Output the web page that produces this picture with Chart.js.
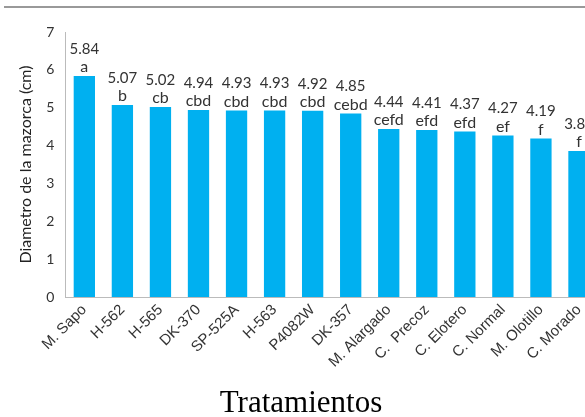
<!DOCTYPE html>
<html>
<head>
<meta charset="utf-8">
<script src="https://cdn.jsdelivr.net/npm/chart.js@4/dist/chart.umd.min.js"></script>
<style>
  html, body { margin: 0; padding: 0; background: #fff; overflow: hidden; }
  #wrap { position: relative; width: 585px; height: 417px; overflow: hidden; }
  #topline { position: absolute; left: 4px; right: 0; top: 6px; height: 2px; background: #999; }
  #grafica { position: absolute; left: 0; top: 0; }
  #titulo-x { position: absolute; left: 201px; width: 200px; top: 384px; text-align: center;
    font-family: 'Liberation Serif', serif; font-size: 31px; line-height: 36px; color: #000; }
</style>
</head>
<body>
<div id="wrap">
  <div id="topline"></div>
  <canvas id="grafica" width="598" height="417"></canvas>
  <div id="titulo-x">Tratamientos</div>
</div>
<script>
var tratamientos = ["M. Sapo", "H-562", "H-565", "DK-370", "SP-525A", "H-563", "P4082W",
  "DK-357", "M. Alargado", "C.  Precoz", "C. Elotero", "C. Normal", "M. Olotillo", "C. Morado"];
var diametro = [5.84, 5.07, 5.02, 4.94, 4.93, 4.93, 4.92, 4.85, 4.44, 4.41, 4.37, 4.27, 4.19, 3.86];
var letras = ["a", "b", "cb", "cbd", "cbd", "cbd", "cbd", "cebd", "cefd", "efd", "efd", "ef", "f", "f"];
var yTicks = [0, 1, 2, 3, 4, 5, 6, 7];

var fuente = "Lato, 'Open Sans', sans-serif";
var fuenteX = "'Liberation Sans', Arial, sans-serif";

var etiquetas = {
  id: "etiquetas",
  afterDatasetsDraw: function (chart) {
    var ctx = chart.ctx;
    var barras = chart.getDatasetMeta(0).data;
    ctx.save();
    ctx.textAlign = "center";
    ctx.textBaseline = "middle";
    ctx.fillStyle = "#333";
    barras.forEach(function (b, i) {
      ctx.font = "15px " + fuente;
      ctx.fillText(diametro[i].toFixed(2), b.x, b.y - 27);
      ctx.font = "16px " + fuente;
      ctx.fillText(letras[i], b.x, b.y - 9);
    });
    ctx.restore();
  }
};

new Chart("grafica", {
  type: "bar",
  data: {
    labels: tratamientos,
    datasets: [{
      data: diametro,
      backgroundColor: "#00b0f0",
      barPercentage: 0.56,
      categoryPercentage: 1
    }]
  },
  options: {
    responsive: false,
    animation: false,
    layout: { padding: { top: 32, left: 16, right: 0, bottom: 42 } },
    plugins: {
      legend: { display: false },
      tooltip: { enabled: false }
    },
    scales: {
      x: {
        grid: { display: false, drawTicks: false },
        border: { color: "#bbb", width: 1 },
        ticks: {
          color: "#333",
          font: { family: fuenteX, size: 15 },
          minRotation: 45,
          maxRotation: 45,
          padding: 4
        }
      },
      y: {
        min: 0,
        max: 7,
        afterBuildTicks: function (axis) {
          axis.ticks = yTicks.map(function (v) { return { value: v }; });
        },
        grid: { display: false, drawOnChartArea: false, drawTicks: true, tickLength: 5, color: "#bbb" },
        border: { color: "#bbb", width: 1 },
        ticks: {
          color: "#333",
          font: { family: fuente, size: 14 },
          padding: 6
        },
        title: {
          display: true,
          text: "Diametro de la mazorca (cm)",
          color: "#222",
          font: { family: fuente, size: 16 },
          padding: { top: 0, bottom: 5 }
        }
      }
    }
  },
  plugins: [etiquetas]
});
</script>
</body>
</html>
